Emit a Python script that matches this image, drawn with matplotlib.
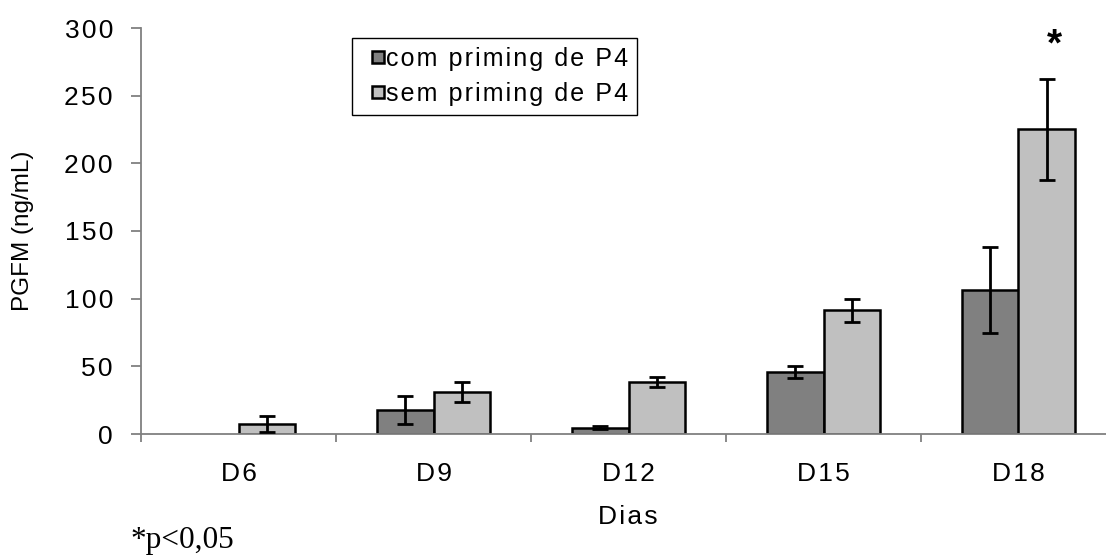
import numpy as np
import matplotlib
matplotlib.use("Agg")
import matplotlib.pyplot as plt
from matplotlib.patches import Rectangle
from matplotlib.container import BarContainer
from matplotlib.legend_handler import HandlerPatch, update_from_first_child

# ---- data ----
dias = ["D6", "D9", "D12", "D15", "D18"]
series = ["com priming de P4", "sem priming de P4"]
com_mean = [np.nan, 17.5, 4.8, 45.6, 106.5]
com_err = [np.nan, 10.3, 1.0, 4.5, 32.0]
sem_mean = [7.4, 30.8, 38.4, 91.6, 225.0]
sem_err = [6.0, 7.5, 4.0, 8.5, 37.0]
yticks = [0, 50, 100, 150, 200, 250, 300]
ylabel = "PGFM (ng/mL)"
xlabel = "Dias"
note = "*p<0,05"

plt.rcParams['font.family'] = ['Liberation Sans', 'DejaVu Sans']

HS = "\u200a"


def spaced(s):
    return HS.join(s)


W, H = 1106, 556
fig = plt.figure(figsize=(W / 100, H / 100), dpi=100)
ax = fig.add_axes([141 / W, 122 / H, 975 / W, 406 / H])

x = np.arange(len(dias))
w = 0.29
b1 = ax.bar(x - w / 2, com_mean, w, color="#808080", edgecolor="black",
            linewidth=1.8, label=spaced(series[0]), zorder=2)
b2 = ax.bar(x + w / 2, sem_mean, w, color="#C0C0C0", edgecolor="black",
            linewidth=1.8, label=spaced(series[1]), zorder=2)
for off, m, e in [(-w / 2, com_mean, com_err), (w / 2, sem_mean, sem_err)]:
    ax.errorbar(x + off, m, yerr=e, fmt='none', ecolor='black',
                elinewidth=2.0, capsize=6, capthick=2.0, zorder=3)

# significance asterisk
ax.text(x[-1] + w / 2 + 0.04, sem_mean[-1] + sem_err[-1] + 17.5, "*",
        fontsize=28, fontweight='bold', ha='center', va='baseline')

ax.set_xlim(-0.5, len(dias) - 0.5)
ax.set_ylim(0, 300)
ax.set_yticks(yticks)
ax.set_yticklabels([spaced(str(v)) for v in yticks])
ax.set_xticks(np.arange(-0.5, len(dias)))
ax.set_xticklabels([])
ax.set_xticks(x, minor=True)
ax.set_xticklabels([spaced(d) for d in dias], minor=True)

for s in ['top', 'right']:
    ax.spines[s].set_visible(False)
for s in ['left', 'bottom']:
    ax.spines[s].set_color('#808080')
    ax.spines[s].set_linewidth(1.3)

ax.tick_params(axis='y', length=7.2, width=1.3, color='#808080', pad=13,
               labelsize=19)
ax.tick_params(axis='x', which='major', length=5.8, width=1.3,
               color='#808080')
ax.tick_params(axis='x', which='minor', length=0, pad=20, labelsize=19)

fig.text(23 / W, 1 - 231 / H, ylabel, rotation=90, fontsize=17.5,
         ha='center', va='center')
fig.text(628 / W, 1 - 517 / H, spaced(xlabel), fontsize=19,
         ha='center', va='center')
fig.text(130 / W, 1 - 548 / H, note, fontsize=22.5,
         family='Liberation Serif', ha='left', va='baseline')


def square_patch(legend, orig_handle, xdescent, ydescent, width, height,
                 fontsize):
    s = 8.4
    return Rectangle((width - s - xdescent, (height - s) / 2 - ydescent), s, s)


leg = ax.legend(handles=[b1, b2], loc='upper left',
                bbox_to_anchor=(352 / W, 1 - 38 / H),
                bbox_transform=fig.transFigure, fontsize=18,
                frameon=True, fancybox=False, edgecolor='black',
                framealpha=1, borderaxespad=0, borderpad=0.35,
                handlelength=0.91, handleheight=0.7, handletextpad=0.1,
                labelspacing=0.45,
                handler_map={BarContainer: HandlerPatch(
                    patch_func=square_patch,
                    update_func=update_from_first_child)})
leg.get_frame().set_linewidth(1.0)

fig.savefig("out.png", dpi=100)
